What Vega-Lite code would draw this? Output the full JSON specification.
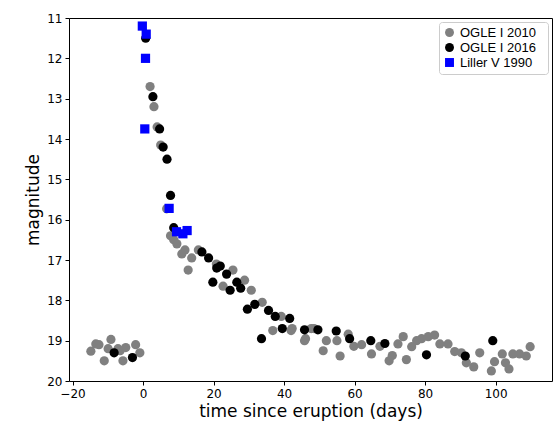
{
  "$schema": "https://vega.github.io/schema/vega-lite/v6.json",
  "width": 483,
  "height": 363,
  "padding": {"left": 24, "top": 12, "right": 6, "bottom": 5},
  "data": {"values": [
    {"t": -14.8, "m": 19.26, "s": "OGLE  I  2010"}, {"t": -13.4, "m": 19.08, "s": "OGLE  I  2010"}, {"t": -11, "m": 19.5, "s": "OGLE  I  2010"},
    {"t": -9.1, "m": 18.97, "s": "OGLE  I  2010"}, {"t": -9.9, "m": 19.2, "s": "OGLE  I  2010"}, {"t": -7.1, "m": 19.2, "s": "OGLE  I  2010"},
    {"t": -5.7, "m": 19.5, "s": "OGLE  I  2010"}, {"t": -4.9, "m": 19.17, "s": "OGLE  I  2010"}, {"t": -2.1, "m": 19.1, "s": "OGLE  I  2010"},
    {"t": -0.9, "m": 19.3, "s": "OGLE  I  2010"}, {"t": -12.5, "m": 19.1, "s": "OGLE  I  2010"}, {"t": -6.5, "m": 19.25, "s": "OGLE  I  2010"},
    {"t": 2.0, "m": 12.7, "s": "OGLE  I  2010"}, {"t": 3.1, "m": 13.2, "s": "OGLE  I  2010"}, {"t": 4.0, "m": 13.7, "s": "OGLE  I  2010"},
    {"t": 5.0, "m": 14.15, "s": "OGLE  I  2010"}, {"t": 6.7, "m": 15.73, "s": "OGLE  I  2010"}, {"t": 7.8, "m": 16.4, "s": "OGLE  I  2010"},
    {"t": 8.7, "m": 16.5, "s": "OGLE  I  2010"}, {"t": 9.6, "m": 16.6, "s": "OGLE  I  2010"}, {"t": 11, "m": 16.85, "s": "OGLE  I  2010"},
    {"t": 11.9, "m": 16.75, "s": "OGLE  I  2010"}, {"t": 12.8, "m": 17.25, "s": "OGLE  I  2010"}, {"t": 13.8, "m": 16.95, "s": "OGLE  I  2010"},
    {"t": 15.7, "m": 16.75, "s": "OGLE  I  2010"}, {"t": 20.8, "m": 17.1, "s": "OGLE  I  2010"}, {"t": 22.7, "m": 17.65, "s": "OGLE  I  2010"},
    {"t": 25.5, "m": 17.25, "s": "OGLE  I  2010"}, {"t": 28.8, "m": 17.5, "s": "OGLE  I  2010"}, {"t": 30.7, "m": 17.75, "s": "OGLE  I  2010"},
    {"t": 33.8, "m": 18.05, "s": "OGLE  I  2010"}, {"t": 36.8, "m": 18.75, "s": "OGLE  I  2010"}, {"t": 39.2, "m": 18.4, "s": "OGLE  I  2010"},
    {"t": 42, "m": 18.75, "s": "OGLE  I  2010"}, {"t": 45.8, "m": 19.0, "s": "OGLE  I  2010"}, {"t": 47.7, "m": 18.7, "s": "OGLE  I  2010"},
    {"t": 42.3, "m": 18.7, "s": "OGLE  I  2010"}, {"t": 46.1, "m": 18.95, "s": "OGLE  I  2010"}, {"t": 48.5, "m": 18.7, "s": "OGLE  I  2010"},
    {"t": 51.1, "m": 19.25, "s": "OGLE  I  2010"}, {"t": 52, "m": 19.0, "s": "OGLE  I  2010"}, {"t": 55, "m": 19.0, "s": "OGLE  I  2010"},
    {"t": 55.9, "m": 19.38, "s": "OGLE  I  2010"}, {"t": 58.2, "m": 18.84, "s": "OGLE  I  2010"}, {"t": 59.8, "m": 19.14, "s": "OGLE  I  2010"},
    {"t": 62, "m": 19.1, "s": "OGLE  I  2010"}, {"t": 64.8, "m": 19.33, "s": "OGLE  I  2010"}, {"t": 67.2, "m": 19.14, "s": "OGLE  I  2010"},
    {"t": 69.8, "m": 19.5, "s": "OGLE  I  2010"}, {"t": 70.7, "m": 19.37, "s": "OGLE  I  2010"}, {"t": 72.3, "m": 19.08, "s": "OGLE  I  2010"},
    {"t": 73.8, "m": 18.9, "s": "OGLE  I  2010"}, {"t": 74.7, "m": 19.47, "s": "OGLE  I  2010"}, {"t": 76.2, "m": 19.15, "s": "OGLE  I  2010"},
    {"t": 77.6, "m": 19.0, "s": "OGLE  I  2010"}, {"t": 79, "m": 18.95, "s": "OGLE  I  2010"}, {"t": 80.9, "m": 18.9, "s": "OGLE  I  2010"},
    {"t": 82.7, "m": 18.86, "s": "OGLE  I  2010"}, {"t": 84.2, "m": 19.08, "s": "OGLE  I  2010"}, {"t": 86.5, "m": 19.08, "s": "OGLE  I  2010"},
    {"t": 88.4, "m": 19.27, "s": "OGLE  I  2010"}, {"t": 90.3, "m": 19.3, "s": "OGLE  I  2010"}, {"t": 91.7, "m": 19.55, "s": "OGLE  I  2010"},
    {"t": 93.8, "m": 19.65, "s": "OGLE  I  2010"}, {"t": 95.5, "m": 19.3, "s": "OGLE  I  2010"}, {"t": 98.8, "m": 19.75, "s": "OGLE  I  2010"},
    {"t": 99.7, "m": 19.52, "s": "OGLE  I  2010"}, {"t": 101.9, "m": 19.33, "s": "OGLE  I  2010"}, {"t": 102.8, "m": 19.55, "s": "OGLE  I  2010"},
    {"t": 103.8, "m": 19.7, "s": "OGLE  I  2010"}, {"t": 104.9, "m": 19.33, "s": "OGLE  I  2010"}, {"t": 106.8, "m": 19.33, "s": "OGLE  I  2010"},
    {"t": 108.7, "m": 19.38, "s": "OGLE  I  2010"}, {"t": 109.8, "m": 19.15, "s": "OGLE  I  2010"},
    {"t": -8.2, "m": 19.3, "s": "OGLE  I  2016"}, {"t": -3.0, "m": 19.42, "s": "OGLE  I  2016"},
    {"t": 0.75, "m": 11.5, "s": "OGLE  I  2016"}, {"t": 2.8, "m": 12.95, "s": "OGLE  I  2016"}, {"t": 4.7, "m": 13.75, "s": "OGLE  I  2016"},
    {"t": 5.7, "m": 14.2, "s": "OGLE  I  2016"}, {"t": 6.8, "m": 14.5, "s": "OGLE  I  2016"}, {"t": 7.8, "m": 15.4, "s": "OGLE  I  2016"},
    {"t": 8.7, "m": 16.2, "s": "OGLE  I  2016"}, {"t": 16.7, "m": 16.8, "s": "OGLE  I  2016"}, {"t": 18.6, "m": 16.95, "s": "OGLE  I  2016"},
    {"t": 19.8, "m": 17.55, "s": "OGLE  I  2016"}, {"t": 20.9, "m": 17.2, "s": "OGLE  I  2016"}, {"t": 21.9, "m": 17.15, "s": "OGLE  I  2016"},
    {"t": 23.7, "m": 17.35, "s": "OGLE  I  2016"}, {"t": 24.7, "m": 17.75, "s": "OGLE  I  2016"}, {"t": 26.6, "m": 17.55, "s": "OGLE  I  2016"},
    {"t": 27.7, "m": 17.7, "s": "OGLE  I  2016"}, {"t": 29.6, "m": 18.22, "s": "OGLE  I  2016"}, {"t": 31.7, "m": 18.1, "s": "OGLE  I  2016"},
    {"t": 33.6, "m": 18.95, "s": "OGLE  I  2016"}, {"t": 35.6, "m": 18.25, "s": "OGLE  I  2016"}, {"t": 37.5, "m": 18.4, "s": "OGLE  I  2016"},
    {"t": 39.5, "m": 18.7, "s": "OGLE  I  2016"}, {"t": 41.6, "m": 18.45, "s": "OGLE  I  2016"}, {"t": 45.8, "m": 18.73, "s": "OGLE  I  2016"},
    {"t": 49.6, "m": 18.73, "s": "OGLE  I  2016"}, {"t": 54.8, "m": 18.76, "s": "OGLE  I  2016"}, {"t": 58.6, "m": 18.95, "s": "OGLE  I  2016"},
    {"t": 64.6, "m": 19.0, "s": "OGLE  I  2016"}, {"t": 68.6, "m": 19.07, "s": "OGLE  I  2016"}, {"t": 80.4, "m": 19.35, "s": "OGLE  I  2016"},
    {"t": 91.4, "m": 19.38, "s": "OGLE  I  2016"}, {"t": 99.2, "m": 19.0, "s": "OGLE  I  2016"},
    {"t": -0.2, "m": 11.2, "s": "Liller V 1990"}, {"t": 0.9, "m": 11.4, "s": "Liller V 1990"}, {"t": 0.7, "m": 12.0, "s": "Liller V 1990"},
    {"t": 0.5, "m": 13.75, "s": "Liller V 1990"}, {"t": 7.4, "m": 15.72, "s": "Liller V 1990"}, {"t": 9.5, "m": 16.3, "s": "Liller V 1990"},
    {"t": 11.3, "m": 16.35, "s": "Liller V 1990"}, {"t": 12.5, "m": 16.27, "s": "Liller V 1990"}
  ]},
  "encoding": {
    "x": {"field": "t", "type": "quantitative", "title": "time since eruption (days)",
      "scale": {"domain": [-21, 116], "nice": false, "zero": false},
      "axis": {"values": [-20, 0, 20, 40, 60, 80, 100], "grid": false}},
    "y": {"field": "m", "type": "quantitative", "title": "magnitude",
      "scale": {"domain": [20, 11], "nice": false, "zero": false},
      "axis": {"values": [11, 12, 13, 14, 15, 16, 17, 18, 19, 20], "grid": false}},
    "color": {"field": "s", "type": "nominal", "title": null,
      "scale": {"domain": ["OGLE  I  2010", "OGLE  I  2016", "Liller V 1990"], "range": ["#808080", "#000000", "#0000ff"]}},
    "shape": {"field": "s", "type": "nominal", "title": null,
      "scale": {"domain": ["OGLE  I  2010", "OGLE  I  2016", "Liller V 1990"], "range": ["circle", "circle", "square"]}}
  },
  "layer": [
    {"transform": [{"filter": "datum.s == 'OGLE  I  2010'"}], "mark": {"type": "point", "filled": true, "opacity": 1, "size": 85}},
    {"transform": [{"filter": "datum.s == 'OGLE  I  2016'"}], "mark": {"type": "point", "filled": true, "opacity": 1, "size": 85}},
    {"transform": [{"filter": "datum.s == 'Liller V 1990'"}], "mark": {"type": "point", "filled": true, "opacity": 1, "size": 85}}
  ],
  "config": {
    "font": "DejaVu Sans",
    "view": {"stroke": "black", "strokeWidth": 1},
    "axis": {"domain": false, "tickColor": "black", "tickSize": 4, "labelColor": "black", "labelFontSize": 12, "titleFontSize": 17, "titleFontWeight": "normal", "titleColor": "black", "labelPadding": 3},
    "legend": {"orient": "top-right", "offset": 4, "labelFontSize": 13, "labelColor": "black", "labelFont": "Liberation Sans", "strokeColor": "#cccccc", "padding": 4, "fillColor": "white", "rowPadding": 1, "symbolSize": 80, "cornerRadius": 3}
  }
}
